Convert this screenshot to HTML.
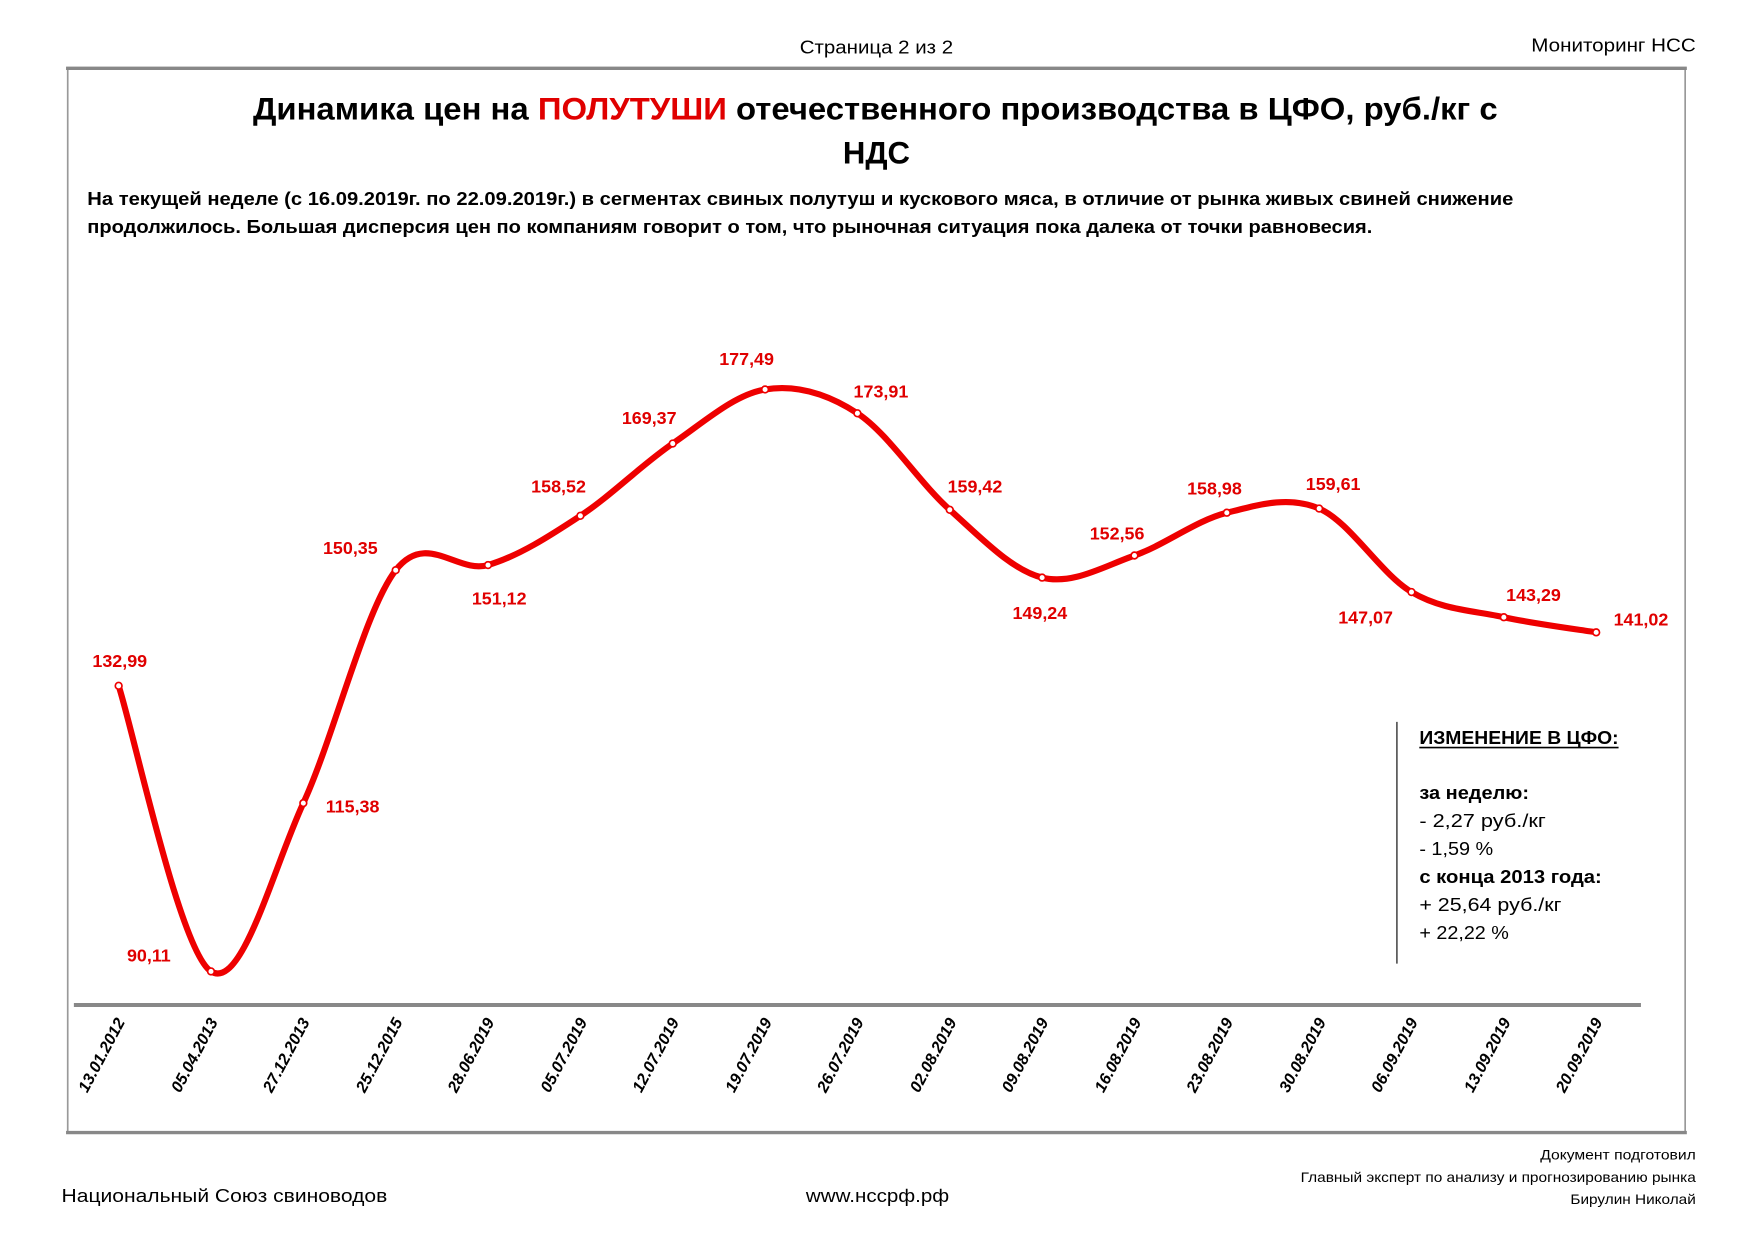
<!DOCTYPE html>
<html><head><meta charset="utf-8"><style>
html,body{margin:0;padding:0;background:#fff}
svg{display:block}
text{font-family:"Liberation Sans","DejaVu Sans",sans-serif}
.lbl{fill:#e00000;font-weight:bold;font-size:16px;text-anchor:middle}
.xl{font-weight:bold;font-style:italic;font-size:14.5px;text-anchor:end}
.t{font-size:16.5px}
</style></head><body>
<svg width="1754" height="1240" viewBox="0 0 1567 1108" preserveAspectRatio="none" xmlns="http://www.w3.org/2000/svg">
<text x="783" y="48" class="t" text-anchor="middle" textLength="137" lengthAdjust="spacingAndGlyphs">Страница 2 из 2</text>
<text x="1515" y="46" class="t" text-anchor="end" textLength="147" lengthAdjust="spacingAndGlyphs">Мониторинг НСС</text>
<rect x="60.5" y="60.5" width="1445" height="952" fill="none" stroke="#999" stroke-width="1.5"/>
<line x1="59" y1="61" x2="1507" y2="61" stroke="#888" stroke-width="3"/>
<line x1="59" y1="1012" x2="1507" y2="1012" stroke="#888" stroke-width="3"/>
<text x="226" y="107" font-size="28" font-weight="bold" textLength="1112" lengthAdjust="spacingAndGlyphs">Динамика цен на <tspan fill="#e00000">ПОЛУТУШИ</tspan> отечественного производства в ЦФО, руб./кг с</text>
<text x="783" y="146" font-size="28" font-weight="bold" text-anchor="middle" textLength="60" lengthAdjust="spacingAndGlyphs">НДС</text>
<text x="78" y="183" font-size="16.5" font-weight="bold" textLength="1274" lengthAdjust="spacingAndGlyphs">На текущей неделе (с 16.09.2019г. по 22.09.2019г.) в сегментах свиных полутуш и кускового мяса, в отличие от рынка живых свиней снижение</text>
<text x="78" y="208" font-size="16.5" font-weight="bold" textLength="1148" lengthAdjust="spacingAndGlyphs">продолжилось. Большая дисперсия цен по компаниям говорит о том, что рыночная ситуация пока далека от точки равновесия.</text>
<line x1="66" y1="898" x2="1466" y2="898" stroke="#888" stroke-width="3.5"/>
<path id="curve" fill="none" stroke="#ee0000" stroke-width="5.5" stroke-linejoin="round" stroke-linecap="round"/>
<g id="marks"></g>
<g class="lbl">
<text x="107" y="596">132,99</text>
<text x="133" y="859">90,11</text>
<text x="315" y="726">115,38</text>
<text x="313" y="495">150,35</text>
<text x="446" y="540">151,12</text>
<text x="499" y="440">158,52</text>
<text x="580" y="379">169,37</text>
<text x="667" y="326">177,49</text>
<text x="787" y="355">173,91</text>
<text x="871" y="440">159,42</text>
<text x="929" y="553">149,24</text>
<text x="998" y="482">152,56</text>
<text x="1085" y="442">158,98</text>
<text x="1191" y="438">159,61</text>
<text x="1220" y="557">147,07</text>
<text x="1370" y="537">143,29</text>
<text x="1466" y="559">141,02</text>
</g>
<g class="xl">
<text transform="translate(112,913) rotate(-62)">13.01.2012</text>
<text transform="translate(195,913) rotate(-62)">05.04.2013</text>
<text transform="translate(277,913) rotate(-62)">27.12.2013</text>
<text transform="translate(360,913) rotate(-62)">25.12.2015</text>
<text transform="translate(442,913) rotate(-62)">28.06.2019</text>
<text transform="translate(525,913) rotate(-62)">05.07.2019</text>
<text transform="translate(607,913) rotate(-62)">12.07.2019</text>
<text transform="translate(690,913) rotate(-62)">19.07.2019</text>
<text transform="translate(772,913) rotate(-62)">26.07.2019</text>
<text transform="translate(855,913) rotate(-62)">02.08.2019</text>
<text transform="translate(937,913) rotate(-62)">09.08.2019</text>
<text transform="translate(1020,913) rotate(-62)">16.08.2019</text>
<text transform="translate(1102,913) rotate(-62)">23.08.2019</text>
<text transform="translate(1185,913) rotate(-62)">30.08.2019</text>
<text transform="translate(1267,913) rotate(-62)">06.09.2019</text>
<text transform="translate(1350,913) rotate(-62)">13.09.2019</text>
<text transform="translate(1432,913) rotate(-62)">20.09.2019</text>
</g>
<line x1="1248" y1="645" x2="1248" y2="861" stroke="#000" stroke-width="1"/>
<g font-size="16.5">
<text x="1268" y="665" font-weight="bold" textLength="178" lengthAdjust="spacingAndGlyphs">ИЗМЕНЕНИЕ В ЦФО:</text>
<line x1="1268" y1="668" x2="1446" y2="668" stroke="#000" stroke-width="1.5"/>
<text x="1268" y="714" font-weight="bold" textLength="98" lengthAdjust="spacingAndGlyphs">за неделю:</text>
<text x="1268" y="739" textLength="113" lengthAdjust="spacingAndGlyphs">- 2,27 руб./кг</text>
<text x="1268" y="764" textLength="66" lengthAdjust="spacingAndGlyphs">- 1,59 %</text>
<text x="1268" y="789" font-weight="bold" textLength="163" lengthAdjust="spacingAndGlyphs">с конца 2013 года:</text>
<text x="1268" y="814" textLength="127" lengthAdjust="spacingAndGlyphs">+ 25,64 руб./кг</text>
<text x="1268" y="839" textLength="80" lengthAdjust="spacingAndGlyphs">+ 22,22 %</text>
</g>
<text x="55" y="1074" class="t" textLength="291" lengthAdjust="spacingAndGlyphs">Национальный Союз свиноводов</text>
<text x="784" y="1074" class="t" text-anchor="middle" textLength="128" lengthAdjust="spacingAndGlyphs">www.нсcрф.рф</text>
<g font-size="12" text-anchor="end">
<text x="1515" y="1036" textLength="139" lengthAdjust="spacingAndGlyphs">Документ подготовил</text>
<text x="1515" y="1056" textLength="353" lengthAdjust="spacingAndGlyphs">Главный эксперт по анализу и прогнозированию рынка</text>
<text x="1515" y="1076" textLength="112" lengthAdjust="spacingAndGlyphs">Бирулин Николай</text>
</g>
</svg>
<script>
(function(){
var v=[132.99,90.11,115.38,150.35,151.12,158.52,169.37,177.49,173.91,159.42,149.24,152.56,158.98,159.61,147.07,143.29,141.02];
var p=v.map(function(val,i){return [106+i*82.5,868-(val-90.11)*5.951];});
var d="M"+p[0][0]+","+p[0][1];
var t=1/3;
for(var i=0;i<p.length-1;i++){
 var p0=p[i-1]||p[i],p1=p[i],p2=p[i+1],p3=p[i+2]||p[i+1];
 var c1=[p1[0]+(p2[0]-p0[0])*t/2,p1[1]+(p2[1]-p0[1])*t/2];
 var c2=[p2[0]-(p3[0]-p1[0])*t/2,p2[1]-(p3[1]-p1[1])*t/2];
 d+=" C"+c1[0].toFixed(1)+","+c1[1].toFixed(1)+" "+c2[0].toFixed(1)+","+c2[1].toFixed(1)+" "+p2[0].toFixed(1)+","+p2[1].toFixed(1);
}
document.getElementById("curve").setAttribute("d",d);
var g=document.getElementById("marks"),s="";
p.forEach(function(q){s+='<circle cx="'+q[0]+'" cy="'+q[1]+'" r="3" fill="#fff" stroke="#ee0000" stroke-width="1.5"/>';});
g.innerHTML=s;
})();
</script>
</body></html>
